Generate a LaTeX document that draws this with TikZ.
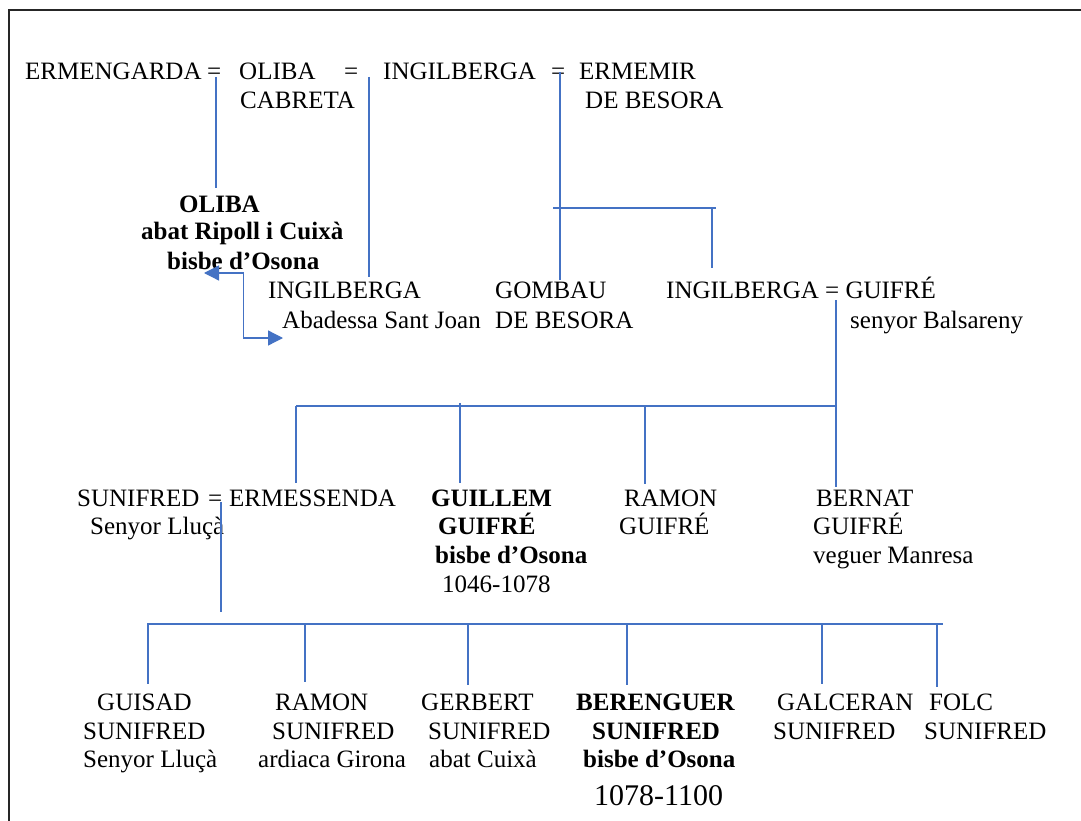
\documentclass[tikz,border=0pt]{standalone}
\usepackage{fontspec}
\setmainfont{Liberation Serif}
\usetikzlibrary{arrows.meta,calc}
\definecolor{lineblue}{HTML}{4472C4}
\begin{document}
\begin{tikzpicture}[x=1pt,y=-1pt,
  txt/.style={anchor=base west,inner sep=0pt,font=\fontsize{25}{29}\selectfont},
  btxt/.style={anchor=base west,inner sep=0pt,font=\fontsize{25}{29}\selectfont\bfseries},
  bigtxt/.style={anchor=base west,inner sep=0pt,font=\fontsize{30}{34}\selectfont},
  conn/.style={draw=lineblue,line width=1.3pt},
  twoway/.style={conn,{Triangle[length=15pt,width=15pt]}-{Triangle[length=15pt,width=15pt]}},
  frameline/.style={draw=black!85,line width=1.6pt}]
\useasboundingbox (0,0) rectangle (1081,821);
\fill[white] (0,0) rectangle (1081,821);
% page frame (top and left edges)
\draw[frameline] (1081,10) -- (9,10) -- (9,821);

% ---- first generation ----
\node[txt] (ermengarda) at (25,80) {ERMENGARDA};
\node[txt] (eqA) at (207,80) {=};
\node[txt] (olibaC) at (239,80) {OLIBA};
\node[txt] (cabreta) at (240,109) {CABRETA};
\node[txt] (eqB) at (344,80) {=};
\node[txt] (ingilbergaA) at (383,80) {INGILBERGA};
\node[txt] (eqC) at (551,80) {=};
\node[txt] (ermemir) at (579,80) {ERMEMIR};
\node[txt] (besoraA) at (585,109) {DE BESORA};

% ---- second generation ----
\node[btxt] (olibaB) at (179,212) {OLIBA};
\node[btxt] (olibaB2) at (141,240) {abat Ripoll i Cuixà};
\node[btxt] (olibaB3) at (167,269) {bisbe d’Osona};
\node[txt] (ingilbergaB) at (268,298) {INGILBERGA};
\node[txt] (abadessa) at (282,328) {Abadessa Sant Joan};
\node[txt] (gombau) at (495,298) {GOMBAU};
\node[txt] (besoraB) at (495,328) {DE BESORA};
\node[txt] (ingilbergaC) at (666,298) {INGILBERGA = GUIFRÉ};
\node[txt] (balsareny) at (850,328) {senyor Balsareny};

% ---- third generation ----
\node[txt] (sunifred) at (77,506) {SUNIFRED};
\node[txt] (eqD) at (208,506) {=};
\node[txt] (ermessenda) at (229,506) {ERMESSENDA};
\node[txt] (llucaA) at (90,534) {Senyor Lluçà};
\node[btxt] (guillem) at (431,506) {GUILLEM};
\node[btxt] (guillem2) at (438,534) {GUIFRÉ};
\node[btxt] (guillem3) at (435,563) {bisbe d’Osona};
\node[txt] (guillem4) at (442,592) {1046-1078};
\node[txt] (ramonG) at (624,506) {RAMON};
\node[txt] (ramonG2) at (619,534) {GUIFRÉ};
\node[txt] (bernat) at (816,506) {BERNAT};
\node[txt] (bernat2) at (813,534) {GUIFRÉ};
\node[txt] (bernat3) at (813,563) {veguer Manresa};

% ---- fourth generation ----
\node[txt] (guisad) at (97,710) {GUISAD};
\node[txt] (guisad2) at (83,739) {SUNIFRED};
\node[txt] (guisad3) at (83,767) {Senyor Lluçà};
\node[txt] (ramonS) at (275,710) {RAMON};
\node[txt] (ramonS2) at (272,739) {SUNIFRED};
\node[txt] (ramonS3) at (258,767) {ardiaca Girona};
\node[txt] (gerbert) at (421,710) {GERBERT};
\node[txt] (gerbert2) at (428,739) {SUNIFRED};
\node[txt] (gerbert3) at (429,767) {abat Cuixà};
\node[btxt] (berenguer) at (576,710) {BERENGUER};
\node[btxt] (berenguer2) at (592,739) {SUNIFRED};
\node[btxt] (berenguer3) at (583,767) {bisbe d’Osona};
\node[bigtxt] (berenguer4) at (594,805) {1078-1100};
\node[txt] (galceran) at (777,710) {GALCERAN};
\node[txt] (galceran2) at (773,739) {SUNIFRED};
\node[txt] (folc) at (929,710) {FOLC};
\node[txt] (folc2) at (924,739) {SUNIFRED};

% ---- connector end points ----
\coordinate (mA) at (216,77);   \coordinate (cA) at (216,188);
\coordinate (mB) at (369,77);   \coordinate (cB) at (369,277);
\coordinate (mC) at (560,72);   \coordinate (cC) at (560,280);
\coordinate (sCl) at (553,208); \coordinate (sCr) at (716,208);
\coordinate (sCd) at (712,208); \coordinate (cC2) at (712,268);
\coordinate (mD) at (836,300);  \coordinate (sDr) at (836,406);
\coordinate (sDend) at (836,487);
\coordinate (sDl) at (296,406); \coordinate (cD1) at (296,483);
\coordinate (sD2) at (460,403); \coordinate (cD2) at (460,483);
\coordinate (sD3) at (645,406); \coordinate (cD3) at (645,484);
\coordinate (mE) at (221,502);  \coordinate (mEend) at (221,612);
\coordinate (sEl) at (148,624); \coordinate (sEr) at (943,624);
\coordinate (arrA) at (204,273); \coordinate (arrB) at (283,338);

% descent lines
\draw[conn] (mA) -- (cA);
\draw[conn] (mB) -- (cB);
\draw[conn] (mC) -- (cC);
\draw[conn] (sCl) -- (sCr);
\draw[conn] (sCd) -- (cC2);
\draw[conn] (mD) -- (sDend);
\draw[conn] (sDl) -- (sDr);
\draw[conn] (sDl) -- (cD1);
\draw[conn] (sD2) -- (cD2);
\draw[conn] (sD3) -- (cD3);
\draw[conn] (mE) -- (mEend);
\draw[conn] (sEl) -- (sEr);
\foreach \x/\y in {148/684,305/682,468/685,627/685,822/684,937/687}
  \draw[conn] (\x,623) -- (\x,\y);

% sibling link between Oliba and the abbess
\draw[twoway] (arrA) -| ($(arrA)!0.5!(arrB)$) |- (arrB);
\end{tikzpicture}
\end{document}
